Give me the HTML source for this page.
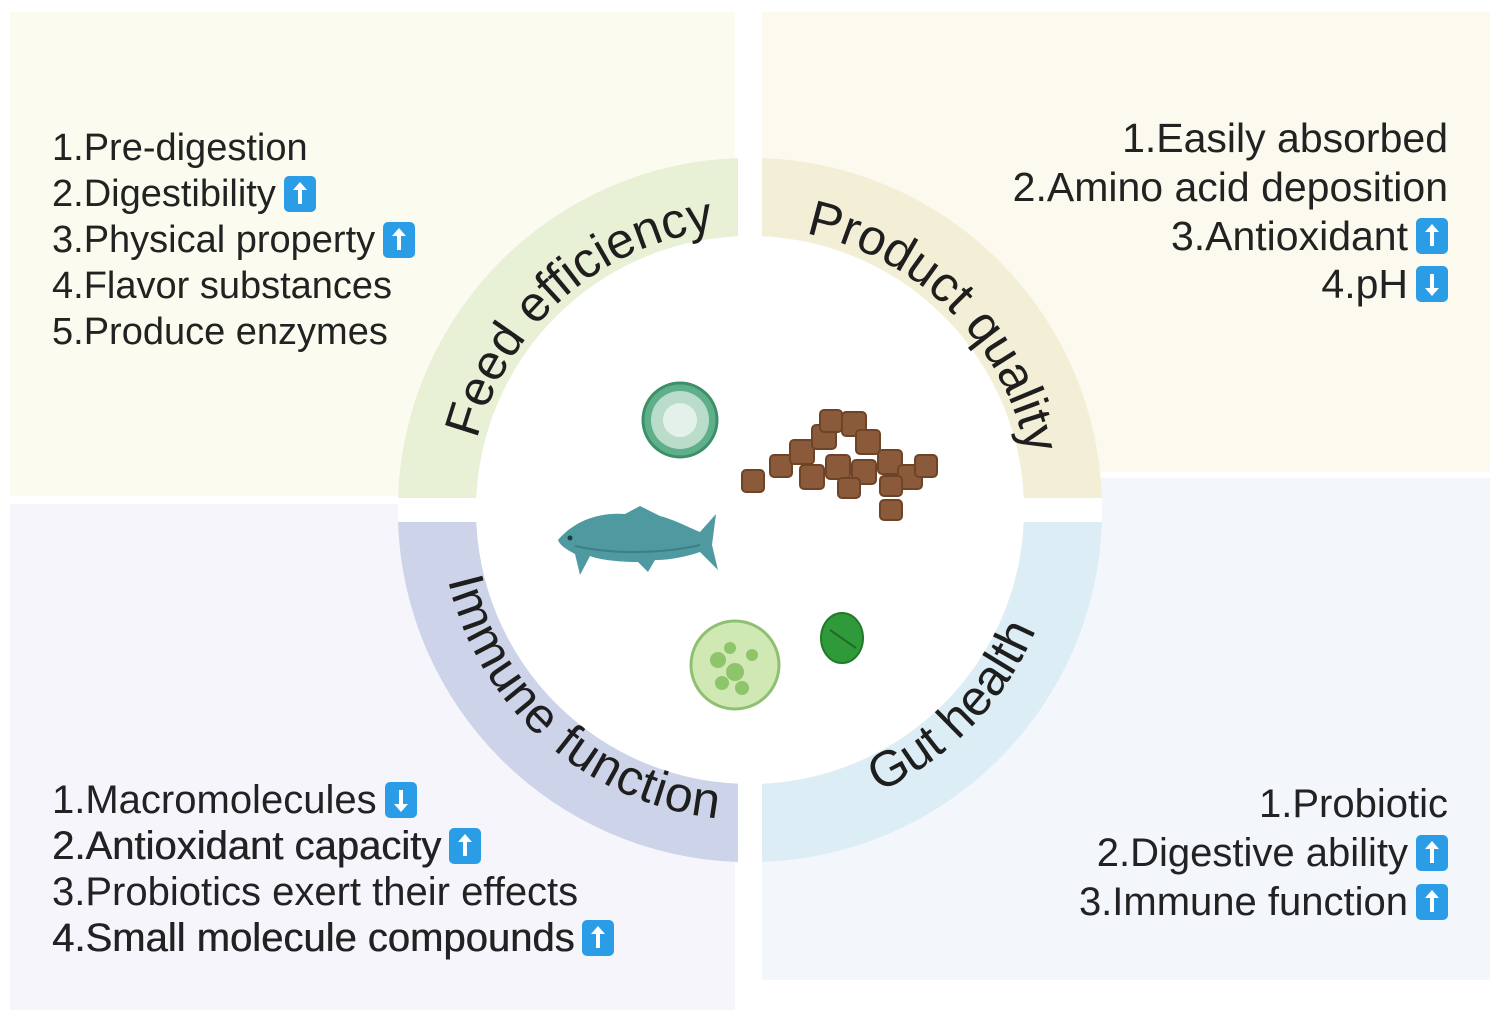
<!DOCTYPE html>
<html><head><meta charset="utf-8">
<style>
html,body{margin:0;padding:0;background:#fff;}
body{width:1500px;height:1019px;position:relative;overflow:hidden;font-family:"Liberation Sans",sans-serif;color:#222;}
.p{position:absolute;}
.t{position:absolute;font-size:40px;line-height:46px;white-space:nowrap;}
.t div{height:46px;display:flex;align-items:center;}
.r{text-align:right;}
.r div{justify-content:flex-end;}
.i{display:inline-block;width:32px;height:36px;background:#2a9de6;border-radius:5px;margin-left:8px;position:relative;vertical-align:middle;flex:none;}
.i::before{content:"";position:absolute;left:14px;top:9px;width:4px;height:19px;background:#fff;}
.i::after{content:"";position:absolute;left:9px;top:6px;border-left:7px solid transparent;border-right:7px solid transparent;border-bottom:8px solid #fff;}
.d::after{top:auto;bottom:6px;border-bottom:none;border-top:8px solid #fff;}
.d::before{top:8px;}
.b{text-shadow:0.5px 0 0 #222;}
</style></head><body>
<div class="p" style="left:10px;top:12px;width:725px;height:484px;background:#fbfcef"></div>
<div class="p" style="left:762px;top:12px;width:728px;height:460px;background:#fcfaee"></div>
<div class="p" style="left:10px;top:504px;width:725px;height:506px;background:#f7f5fc"></div>
<div class="p" style="left:762px;top:478px;width:728px;height:502px;background:#f3f7fc"></div>

<svg class="p" style="left:0;top:0" width="1500" height="1019" viewBox="0 0 1500 1019">
<defs>
<path id="fe" d="M 468 510 A 282 282 0 0 1 750 228"/>
<path id="pq" d="M 750 228 A 282 282 0 0 1 1032 510"/>
<path id="im" d="M 440 510 A 310 310 0 0 0 750 820"/>
<path id="gh" d="M 750 820 A 310 310 0 0 0 1060 510"/>
</defs>
<rect x="736" y="0" width="26" height="1019" fill="#fff"/>
<rect x="398" y="498" width="704" height="24" fill="#fff"/>
<path d="M398 498 A352 352 0 0 1 738 158 L738 237 A273 273 0 0 0 477 498 Z" fill="#e8f0d6"/>
<path d="M762 158 A352 352 0 0 1 1102 498 L1023 498 A273 273 0 0 0 762 237 Z" fill="#f3efd6"/>
<path d="M398 522 A352 352 0 0 0 738 862 L738 783 A273 273 0 0 1 477 522 Z" fill="#cdd3e8"/>
<path d="M762 862 A352 352 0 0 0 1102 522 L1023 522 A273 273 0 0 1 762 783 Z" fill="#dcedf5"/>
<circle cx="750" cy="510" r="274" fill="#fff"/>
<g font-family="Liberation Sans, sans-serif" font-size="50" fill="#1e1e1e" text-anchor="middle">
<text><textPath href="#fe" startOffset="54%">Feed efficiency</textPath></text>
<text><textPath href="#pq" startOffset="50%">Product quality</textPath></text>
<text letter-spacing="1"><textPath href="#im" startOffset="54%">Immune function</textPath></text>
<text><textPath href="#gh" startOffset="51%">Gut health</textPath></text>
</g>
<circle cx="680" cy="420" r="37" fill="#5fb08a" stroke="#3d8f6a" stroke-width="3"/>
<circle cx="680" cy="420" r="29" fill="#b9dccb"/>
<circle cx="680" cy="420" r="17" fill="#e4f1ea"/>
<g fill="#8a5a3a" stroke="#6e4428" stroke-width="2">
<rect x="742" y="470" width="22" height="22" rx="4"/>
<rect x="770" y="455" width="22" height="22" rx="4"/>
<rect x="790" y="440" width="24" height="24" rx="4"/>
<rect x="812" y="425" width="24" height="24" rx="4"/>
<rect x="820" y="410" width="22" height="22" rx="4"/>
<rect x="842" y="412" width="24" height="24" rx="4"/>
<rect x="856" y="430" width="24" height="24" rx="4"/>
<rect x="800" y="465" width="24" height="24" rx="4"/>
<rect x="826" y="455" width="24" height="24" rx="4"/>
<rect x="852" y="460" width="24" height="24" rx="4"/>
<rect x="878" y="450" width="24" height="24" rx="4"/>
<rect x="898" y="465" width="24" height="24" rx="4"/>
<rect x="915" y="455" width="22" height="22" rx="4"/>
<rect x="838" y="478" width="22" height="20" rx="4"/>
<rect x="880" y="476" width="22" height="20" rx="4"/>
<rect x="880" y="500" width="22" height="20" rx="4"/>
</g>
<path d="M558 540 C575 520 600 512 625 514 L640 506 L660 516 C675 520 690 528 700 532 L716 514 L712 545 L718 570 L700 552 C688 556 672 560 655 560 L648 572 L638 562 C620 562 600 560 590 556 L580 575 L575 554 C568 550 560 546 558 540 Z" fill="#4e9aa0"/>
<path d="M575 546 C620 556 670 552 700 545" stroke="#3d7f86" stroke-width="2" fill="none"/>
<circle cx="570" cy="538" r="2.5" fill="#1f3c40"/>
<circle cx="735" cy="665" r="44" fill="#cfe8b4" stroke="#8fc072" stroke-width="3"/>
<g fill="#8ec46a"><circle cx="718" cy="660" r="8"/><circle cx="735" cy="672" r="9"/><circle cx="722" cy="683" r="7"/><circle cx="752" cy="655" r="6"/><circle cx="742" cy="688" r="7"/><circle cx="730" cy="648" r="6"/></g>
<ellipse cx="842" cy="638" rx="21" ry="25" fill="#2f9a3a" stroke="#207a2a" stroke-width="2"/>
<path d="M830 630 L856 648" stroke="#1f6a28" stroke-width="2"/>
</svg>

<div class="t" style="left:52px;top:125px;font-size:38px">
<div>1.Pre-digestion</div>
<div>2.Digestibility<span class="i"></span></div>
<div>3.Physical property<span class="i"></span></div>
<div>4.Flavor substances</div>
<div>5.Produce enzymes</div>
</div>
<div class="t r" style="right:52px;top:114px;line-height:48px;font-size:41px">
<div style="height:48px">1.Easily absorbed</div>
<div style="height:49px">2.Amino acid deposition</div>
<div style="height:49px">3.Antioxidant<span class="i"></span></div>
<div style="height:48px">4.pH<span class="i d"></span></div>
</div>
<div class="t" style="left:52px;top:777px">
<div>1.Macromolecules<span class="i d"></span></div>
<div class="b">2.Antioxidant capacity<span class="i"></span></div>
<div>3.Probiotics exert their effects</div>
<div class="b">4.Small molecule compounds<span class="i"></span></div>
</div>
<div class="t r" style="right:52px;top:779px">
<div style="height:49px">1.Probiotic</div>
<div style="height:49px">2.Digestive ability<span class="i"></span></div>
<div style="height:49px">3.Immune function<span class="i"></span></div>
</div>
</body></html>
